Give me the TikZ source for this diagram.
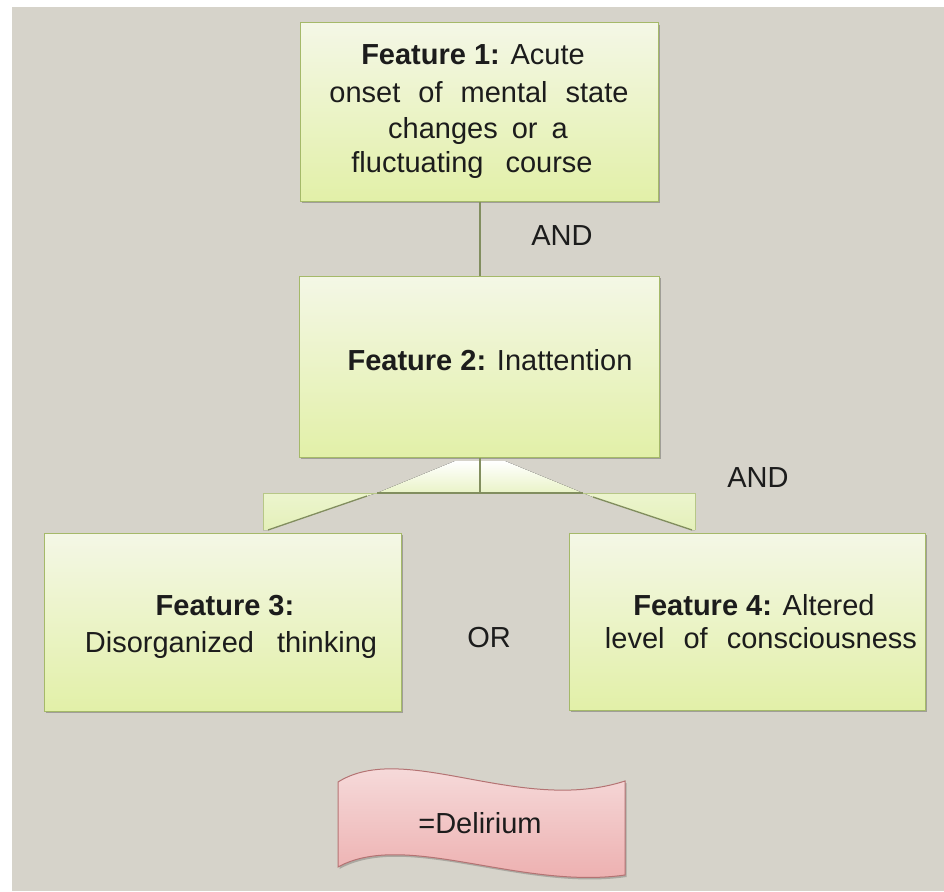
\documentclass[tikz,border=0pt]{standalone}
\usepackage{fontspec}
\setmainfont{Liberation Sans}
\usetikzlibrary{shadows}
\definecolor{bg}{RGB}{214,211,202}
\definecolor{boxtop}{RGB}{244,247,230}
\definecolor{boxbot}{RGB}{226,240,168}
\definecolor{boxline}{RGB}{165,185,105}
\definecolor{conn}{RGB}{130,142,95}
\definecolor{flap}{RGB}{228,240,185}
\definecolor{deltop}{RGB}{248,228,228}
\definecolor{delbot}{RGB}{236,172,172}
\definecolor{delline}{RGB}{180,115,115}
\definecolor{ink}{RGB}{28,28,28}
\tikzset{
  box/.style={draw=boxline, line width=1pt, top color=boxtop, bottom color=boxbot,
    inner sep=0pt, rectangle,
    drop shadow={shadow xshift=1.5pt, shadow yshift=-2pt, fill=black, opacity=0.25}},
  txt/.style={inner sep=0pt, text=ink, anchor=base, font=\fontsize{29}{36}\selectfont},
  connline/.style={draw=conn, line width=1.3pt},
  flapedge/.style={draw=boxline!80, line width=1pt},
}
\begin{document}
\begin{tikzpicture}[x=1pt, y=-1pt]
\useasboundingbox (0,0) rectangle (944,891);
\fill[white] (0,0) rectangle (944,891);
\fill[bg] (12,7) rectangle (944,891);

% boxes
\node[box, minimum width=358pt, minimum height=178pt] (b1) at (479,112) {};
\node[box, minimum width=360pt, minimum height=181pt] (b2) at (479,366.5) {};
\node[box, minimum width=357pt, minimum height=178pt] (b3) at (222.5,622) {};
\node[box, minimum width=356pt, minimum height=177pt] (b4) at (747,621.5) {};

% connector geometry
\coordinate (J) at (480,493);
\coordinate (L) at (377,493);
\coordinate (R) at (583,493);
\coordinate (Ld) at (367,496);
\coordinate (Le) at (268,530);
\coordinate (Rd) at (593,497);
\coordinate (Re) at (692,530);

% light cone under feature 2
\fill[top color=white, bottom color=flap!80!white] (L) -- (455,461) -- (505,461) -- (R) -- cycle;
% left flap
\fill[top color=flap!70!white, bottom color=flap] (263,493) -- (L) -- (Ld) -- (Le) -- (263,530) -- cycle;
\draw[flapedge] (263,530) -- (263,493) -- (L);
% right flap
\fill[top color=flap!70!white, bottom color=flap] (R) -- (695,493) -- (695,530) -- (Re) -- (Rd) -- cycle;
\draw[flapedge] (R) -- (695,493) -- (695,530);

\draw[connline] (b1.south -| J) -- (b2.north -| J);
\draw[connline] (b2.south -| J) -- (J);
\draw[connline, line width=1.8pt] (L) -- (R);
\draw[connline] (Ld) -- (Le);
\draw[connline] (Rd) -- (Re);

% texts
\node[txt] (t1a) at (473,64) {\textbf{Feature 1:} Acute};
\node[txt] (t1b) at (479,102) {onset\hspace{18pt}of\hspace{18pt}mental\hspace{18pt}state};
\node[txt] (t1c) at (478,138) {changes\hspace{14pt}or\hspace{14pt}a};
\node[txt] (t1d) at (472,172) {fluctuating\hspace{22pt}course};
\node[txt] (t2) at (490,370) {\textbf{Feature 2:} Inattention};
\node[txt] (t3a) at (225,615) {\textbf{Feature 3:}};
\node[txt] (t3b) at (231,652) {Disorganized\hspace{23pt}thinking};
\node[txt] (t4a) at (754,615) {\textbf{Feature 4:} Altered};
\node[txt] (t4b) at (761,648) {level\hspace{19pt}of\hspace{19pt}consciousness};
\node[txt] (and1) at (562,245) {AND};
\node[txt] (and2) at (758,487) {AND};
\node[txt] (or) at (489,647) {OR};

% delirium wave
\path[draw=delline, line width=1pt, top color=deltop, bottom color=delbot,
  drop shadow={shadow xshift=1.5pt, shadow yshift=-2pt, fill=black, opacity=0.2}]
  (338,782) .. controls (405,740) and (520,815) .. (625,781)
  -- (625,875)
  .. controls (520,890) and (405,830) .. (338,867) -- cycle;
\node[txt] (del) at (480,833) {=Delirium};
\end{tikzpicture}
\end{document}
